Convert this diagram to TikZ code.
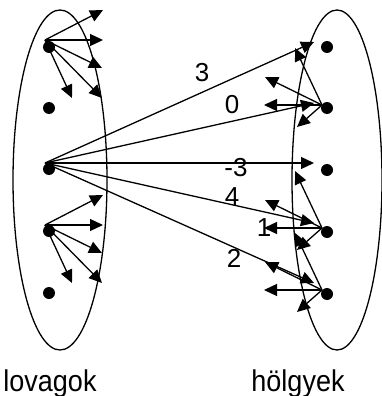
\documentclass[tikz,border=0pt]{standalone}
\usepackage{fontspec}
\setmainfont{Liberation Sans}
\usetikzlibrary{arrows.meta,shapes.geometric}
\begin{document}
\begin{tikzpicture}[x=1pt,y=-1pt,
 dot/.style={circle,fill=black,inner sep=0pt,minimum size=12pt},
 arr/.style={line width=1.3pt,-{Triangle[length=13pt,width=12pt]}},
 setshape/.style={draw,line width=1.3pt,ellipse,inner sep=0pt},
 lbl/.style={font=\fontsize{26}{26}\selectfont,inner sep=0pt},
 setname/.style={font=\fontsize{30}{30}\selectfont,inner sep=0pt,anchor=base,xscale=0.9}]
\useasboundingbox (0,0) rectangle (381,396);
% sets
\node[setshape,minimum width=94pt,minimum height=340pt] (lset) at (60,180) {};
\node[setshape,minimum width=90pt,minimum height=340pt] (rset) at (337,180) {};
% fan origins
\coordinate (fl1) at (45,40);
\coordinate (fl4) at (45,225);
\coordinate (lm) at (45,163);
\coordinate (fr2) at (322,105);
\coordinate (fr4) at (322,228);
\coordinate (fr5) at (322,290);
% long arrow ends
\coordinate (e1) at (314,42);
\coordinate (e2) at (314,103);
\coordinate (e3) at (314,163);
\coordinate (e4) at (314,223);
\coordinate (e5) at (314,283);
% left fans
\foreach \o in {fl1,fl4}
  \foreach \dx/\dy in {58/-30,58/0,57/28,57/58,27/58}
    \draw[arr] (\o) -- ++(\dx,\dy);
% right fans
\foreach \o in {fr2,fr4,fr5}
  \foreach \dx/\dy in {-27/-57,-57/-28,-58/0,-25/22}
    \draw[arr] (\o) -- ++(\dx,\dy);
% long arrows
\foreach \e in {e1,e2,e3,e4,e5}
  \draw[arr] (lm) -- (\e);
% dots
\node[dot] (l1) at (49,47) {};
\node[dot] (l2) at (49,108) {};
\node[dot] (l3) at (49,169) {};
\node[dot] (l4) at (49,231) {};
\node[dot] (l5) at (49,293) {};
\node[dot] (r1) at (327,47) {};
\node[dot] (r2) at (327,108) {};
\node[dot] (r3) at (327,170) {};
\node[dot] (r4) at (327,232) {};
\node[dot] (r5) at (327,294) {};
% weights
\node[lbl] (w1) at (202,73) {3};
\node[lbl] (w2) at (232,105) {0};
\node[lbl] (w3) at (236,168) {-3};
\node[lbl] (w4) at (232,197) {4};
\node[lbl] (w5) at (264,228) {1};
\node[lbl] (w6) at (234,258) {2};
% set names
\node[setname] (ln) at (50,391) {lovagok};
\node[setname] (hn) at (298,391) {hölgyek};
\end{tikzpicture}
\end{document}
